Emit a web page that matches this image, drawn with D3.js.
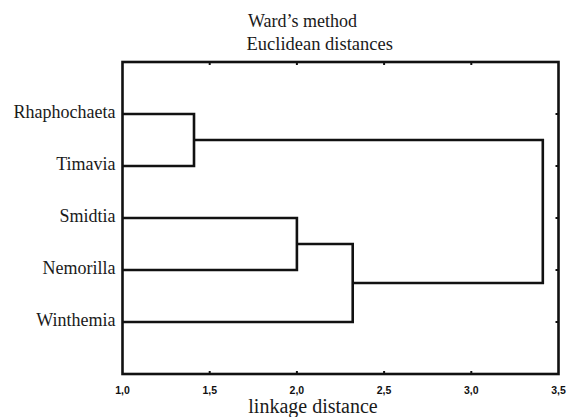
<!DOCTYPE html>
<html>
  <head>
    <meta charset="utf-8" />
    <title>Ward's method dendrogram</title>
    <script src="https://d3js.org/d3.v7.min.js"></script>
    <style>
      body { margin: 0; background: #fff; }
    </style>
  </head>
  <body>
    <svg id="chart" width="568" height="417"></svg>

    <script>
      // leaves, top to bottom
      var leaves = ["Rhaphochaeta", "Timavia", "Smidtia", "Nemorilla", "Winthemia"];

      // merges: [childA, childB, linkage distance]; ids >= 5 are earlier merges
      var merges = [
        [0, 1, 1.41],
        [2, 3, 2.0],
        [6, 4, 2.32],
        [5, 7, 3.41]
      ];

      var xTicks = [1.0, 1.5, 2.0, 2.5, 3.0, 3.5];
      var titleLines = ["Ward\u2019s method", "Euclidean distances"];
      var xTitle = "linkage distance";

      var svg = d3.select("#chart");
      var ink = "#111";

      var x = d3.scaleLinear().domain([1, 3.5]).range([122.5, 558.5]);
      var y = d3.scaleLinear().domain([0, leaves.length + 1]).range([62, 374]);

      // node positions: leaves first, then merges
      var nodes = leaves.map(function (name, i) {
        return { name: name, x: x(1), y: y(i + 1) };
      });
      merges.forEach(function (m) {
        var a = nodes[m[0]], b = nodes[m[1]];
        nodes.push({ x: x(m[2]), y: (a.y + b.y) / 2, kids: [a, b] });
      });

      // frame
      svg.append("rect")
        .attr("x", x(1)).attr("y", y(0))
        .attr("width", x(3.5) - x(1)).attr("height", y(leaves.length + 1) - y(0))
        .attr("fill", "none").attr("stroke", ink).attr("stroke-width", 2.6);

      // inner ticks
      var tickLen = 3;
      var g = svg.append("g").attr("stroke", ink).attr("stroke-width", 2);
      xTicks.slice(1, -1).forEach(function (t) {
        g.append("line").attr("x1", x(t)).attr("x2", x(t)).attr("y1", y(0)).attr("y2", y(0) + tickLen);
        g.append("line").attr("x1", x(t)).attr("x2", x(t)).attr("y1", y(6)).attr("y2", y(6) - tickLen);
      });
      leaves.forEach(function (d, i) {
        g.append("line").attr("x1", x(3.5)).attr("x2", x(3.5) - tickLen).attr("y1", y(i + 1)).attr("y2", y(i + 1));
      });

      // dendrogram links (elbows)
      var links = svg.append("g").attr("fill", "none").attr("stroke", ink).attr("stroke-width", 2.6)
        .attr("stroke-linejoin", "miter");
      nodes.filter(function (n) { return n.kids; }).forEach(function (n) {
        var a = n.kids[0], b = n.kids[1];
        links.append("path")
          .attr("d", "M" + a.x + "," + a.y + "H" + n.x + "V" + b.y + "H" + b.x);
      });

      // leaf labels
      svg.append("g")
        .selectAll("text")
        .data(leaves)
        .enter()
        .append("text")
        .attr("x", x(1) - 7)
        .attr("y", function (d, i) { return y(i + 1) + 4; })
        .attr("text-anchor", "end")
        .attr("font-family", "Liberation Serif, Times New Roman, serif")
        .attr("font-size", 18)
        .attr("fill", "#1a1a1a")
        .text(function (d) { return d; });

      // x tick labels
      svg.append("g")
        .selectAll("text")
        .data(xTicks)
        .enter()
        .append("text")
        .attr("x", function (d) { return x(d); })
        .attr("y", 394)
        .attr("text-anchor", "middle")
        .attr("font-family", "Liberation Sans, Arial, sans-serif")
        .attr("font-weight", "bold")
        .attr("font-size", 10.5)
        .attr("fill", "#111")
        .text(function (d) { return d3.format(".1f")(d).replace(".", ","); });

      // axis title
      svg.append("text")
        .attr("x", 313).attr("y", 413)
        .attr("text-anchor", "middle")
        .attr("font-family", "Liberation Serif, Times New Roman, serif")
        .attr("font-size", 20)
        .attr("fill", "#1a1a1a")
        .text(xTitle);

      // chart title
      svg.append("g")
        .selectAll("text")
        .data(titleLines)
        .enter()
        .append("text")
        .attr("x", function (d, i) { return i === 0 ? 248 : 246.5; })
        .attr("y", function (d, i) { return 27 + i * 23; })
        .attr("font-family", "Liberation Serif, Times New Roman, serif")
        .attr("font-size", function (d, i) { return i === 0 ? 18 : 18.5; })
        .attr("fill", "#1a1a1a")
        .text(function (d) { return d; });
    </script>
  </body>
</html>
